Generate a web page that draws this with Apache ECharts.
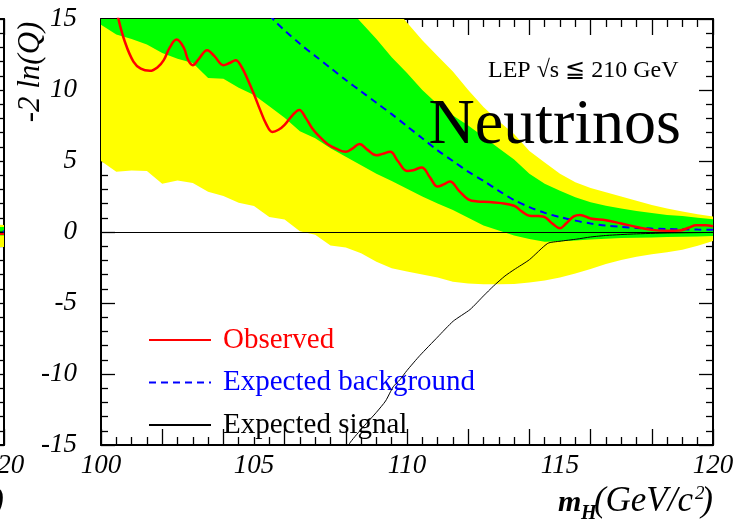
<!DOCTYPE html>
<html>
<head>
<meta charset="utf-8">
<script src="https://cdn.jsdelivr.net/npm/echarts@6/dist/echarts.min.js"></script>
<style>
  html, body { margin: 0; padding: 0; background: #ffffff; }
  #chart { width: 753px; height: 524px; }
</style>
</head>
<body>
<div id="chart"></div>
<script>
// -2 ln(Q) versus the Higgs mass hypothesis, invisible ("neutrinos") channel.

const xTickLabels = [100, 105, 110, 115, 120];
const yTickLabels = [-15, -10, -5, 0, 5, 10, 15];

// observed -2 ln(Q)  [m_H, value]
const observed = [
  [100.40, 16.8], [100.57, 15.0], [100.78, 13.4], [101.06, 12.0], [101.30, 11.5],
  [101.60, 11.35], [101.85, 11.6], [102.05, 12.1], [102.25, 13.0], [102.47, 13.55],
  [102.70, 13.0], [102.85, 12.1], [103.00, 11.75], [103.20, 12.2], [103.47, 12.8],
  [103.70, 12.4], [104.00, 11.75], [104.20, 11.9], [104.40, 12.1], [104.60, 11.6],
  [104.80, 10.7], [105.00, 9.7], [105.20, 8.6], [105.40, 7.6], [105.60, 7.05],
  [105.80, 7.2], [106.00, 7.55], [106.25, 8.2], [106.48, 8.6], [106.70, 8.0],
  [106.90, 7.3], [107.10, 6.8], [107.40, 6.2], [107.70, 5.85], [108.00, 5.65],
  [108.20, 5.85], [108.45, 6.2], [108.70, 5.8], [109.00, 5.4], [109.20, 5.5],
  [109.45, 5.65], [109.70, 5.0], [110.00, 4.3], [110.20, 4.35], [110.48, 4.55],
  [110.75, 3.85], [111.00, 3.2], [111.20, 3.35], [111.40, 3.55], [111.70, 2.9],
  [112.00, 2.3], [112.30, 2.15], [112.70, 2.12], [113.00, 2.05], [113.50, 1.85],
  [113.75, 1.45], [114.00, 1.15], [114.30, 1.12], [114.50, 1.05], [114.75, 0.6],
  [115.00, 0.27], [115.20, 0.6], [115.45, 1.1], [115.65, 1.2], [116.00, 0.95],
  [116.50, 0.82], [117.00, 0.6], [117.50, 0.35], [118.00, 0.15], [118.50, 0.08],
  [118.90, 0.1], [119.20, 0.3], [119.45, 0.48], [119.75, 0.47], [120.00, 0.4]
];

// median expected for background only
const expectedBackground = [
  [105.50, 15.3], [105.69, 14.83], [106.0, 14.2], [106.5, 13.25], [107.0, 12.4],
  [107.5, 11.55], [108.0, 10.7], [108.5, 9.9], [109.0, 9.1], [109.5, 8.3],
  [110.0, 7.45], [110.5, 6.6], [111.0, 5.75], [111.5, 5.0], [112.0, 4.25],
  [112.5, 3.6], [113.0, 2.9], [113.5, 2.25], [114.0, 1.75], [114.5, 1.35],
  [115.0, 1.05], [115.5, 0.8], [116.0, 0.6], [116.5, 0.45], [117.0, 0.36],
  [117.5, 0.29], [118.0, 0.24], [118.5, 0.21], [119.0, 0.19], [119.5, 0.17],
  [120.0, 0.16]
];

// median expected for signal + background
const expectedSignal = [
  [108.05, -15.5], [108.12, -14.9], [108.5, -13.9], [109.0, -12.7], [109.3, -11.9],
  [109.55, -10.9], [109.77, -10.4], [110.0, -9.75], [110.42, -8.7], [111.0, -7.4],
  [111.51, -6.28], [112.06, -5.46], [112.5, -4.5], [112.82, -3.82], [113.2, -3.1],
  [113.5, -2.65], [114.0, -1.95], [114.6, -0.8], [115.0, -0.65], [115.55, -0.5],
  [116.0, -0.35], [116.53, -0.24], [117.4, -0.14], [118.5, -0.07], [120.0, -0.03]
];

// 1 sigma band around the background expectation
const greenUpper = [
  [100.0, 26.0], [104.0, 21.0], [107.0, 17.0], [108.4, 15.0], [109.0, 13.6],
  [109.5, 12.3], [110.0, 11.2], [110.5, 10.0], [111.0, 9.0], [111.5, 8.2],
  [112.0, 7.5], [112.5, 6.7], [113.0, 5.9], [113.5, 5.1], [114.0, 4.1],
  [114.5, 3.4], [115.0, 2.9], [115.5, 2.45], [116.0, 2.1], [116.5, 1.85],
  [117.0, 1.65], [117.5, 1.48], [118.0, 1.33], [118.5, 1.2], [119.0, 1.12],
  [119.5, 1.0], [120.0, 0.9]
];
const greenLower = [
  [100.0, 14.6], [100.5, 13.9], [101.0, 13.6], [101.5, 13.2], [102.0, 12.6],
  [102.5, 12.2], [103.0, 11.9], [103.5, 10.85], [104.0, 10.8], [104.5, 10.15],
  [105.0, 9.65], [105.5, 8.85], [106.0, 8.05], [106.5, 7.1], [107.0, 6.6],
  [107.5, 5.9], [108.0, 5.3], [108.5, 4.7], [109.0, 4.1], [109.5, 3.6],
  [110.0, 3.05], [110.5, 2.5], [111.0, 2.0], [111.5, 1.55], [112.0, 1.0],
  [112.5, 0.45], [113.0, 0.1], [113.5, -0.25], [114.0, -0.5], [114.5, -0.68],
  [115.0, -0.65], [115.5, -0.6], [116.0, -0.53], [116.5, -0.47], [117.0, -0.43],
  [117.5, -0.4], [118.0, -0.38], [118.5, -0.36], [119.0, -0.34], [119.5, -0.31],
  [120.0, -0.28]
];

// 2 sigma band around the background expectation
const yellowUpper = [
  [100.0, 30.0], [105.0, 24.0], [108.5, 18.0], [109.9, 15.0], [110.5, 13.5],
  [111.0, 12.4], [111.5, 11.3], [112.0, 10.0], [112.5, 8.8], [113.0, 7.8],
  [113.5, 6.9], [114.0, 5.7], [114.5, 4.9], [115.0, 4.1], [115.5, 3.5],
  [116.0, 3.1], [116.5, 2.8], [117.0, 2.5], [117.5, 2.2], [118.0, 1.9],
  [118.5, 1.65], [119.0, 1.45], [119.5, 1.25], [120.0, 1.1]
];
const yellowLower = [
  [100.0, 5.0], [100.5, 4.25], [101.0, 4.33], [101.5, 4.3], [102.0, 3.4],
  [102.5, 3.63], [103.0, 3.45], [103.5, 2.83], [104.0, 2.53], [104.5, 2.06],
  [105.0, 1.83], [105.5, 1.05], [106.0, 0.88], [106.5, 0.05], [107.0, -0.2],
  [107.5, -0.95], [108.0, -1.1], [108.5, -1.5], [109.0, -2.1], [109.5, -2.55],
  [110.0, -2.78], [110.5, -3.0], [111.0, -3.2], [111.5, -3.5], [112.0, -3.62],
  [112.5, -3.68], [113.0, -3.68], [113.5, -3.66], [114.0, -3.56], [114.5, -3.42],
  [115.0, -3.2], [115.5, -2.92], [116.0, -2.6], [116.5, -2.25], [117.0, -1.98],
  [117.5, -1.75], [118.0, -1.56], [118.5, -1.42], [119.0, -1.25], [119.5, -0.97],
  [120.0, -0.63]
];

// neighbouring panel (only its right-hand edge falls on the page)
const sideYellowUpper = [[118.0, 0.6], [120.0, 0.5]];
const sideGreenUpper = [[118.0, 0.42], [120.0, 0.38]];
const sideGreenLower = [[118.0, -0.3], [120.0, -0.25]];
const sideYellowLower = [[118.0, -1.1], [120.0, -1.05]];
const sideObserved = [[118.0, -0.1], [120.0, -0.12]];
const sideBackground = [[118.0, 0.05], [120.0, 0.04]];
const sideSignal = [[118.0, 0.0], [120.0, 0.0]];

const SERIF = '"Liberation Serif", "Times New Roman", Times, serif';
const BLACK = '#000000';

function bandSeries(upper, lower, color, xi, yi, z) {
  return {
    type: 'custom',
    xAxisIndex: xi,
    yAxisIndex: yi,
    clip: true,
    silent: true,
    z: z,
    data: [[110, 0]],
    renderItem: function (params, api) {
      const pts = upper.map(function (p) { return api.coord(p); })
        .concat(lower.slice().reverse().map(function (p) { return api.coord(p); }));
      return { type: 'polygon', shape: { points: pts }, style: { fill: color, stroke: null } };
    }
  };
}

function xAxes(grid) {
  const tickAxis = function (pos) {
    return {
      gridIndex: grid, type: 'value', position: pos, min: 100, max: 120, interval: 2,
      axisLine: { show: true, onZero: false, lineStyle: { color: BLACK, width: 2 } },
      axisTick: { show: true, inside: true, length: 16, lineStyle: { color: BLACK, width: 1.3 } },
      minorTick: { show: true, splitNumber: 4, length: 8, lineStyle: { color: BLACK, width: 1.3 } },
      axisLabel: { show: false },
      splitLine: { show: false }, minorSplitLine: { show: false }
    };
  };
  return [
    tickAxis('bottom'),
    {
      gridIndex: grid, type: 'value', position: 'bottom', min: 100, max: 120, interval: 5,
      axisLine: { show: false, onZero: false }, axisTick: { show: false },
      axisLabel: {
        show: true, margin: 7, color: BLACK, fontFamily: SERIF, fontStyle: 'italic', fontSize: 27,
        showMinLabel: true, showMaxLabel: true, hideOverlap: false,
        formatter: function (v) { return xTickLabels.indexOf(v) >= 0 ? String(v) : ''; }
      },
      splitLine: { show: false }
    },
    tickAxis('top')
  ];
}

function yAxes(grid) {
  const axis = function (pos, labels) {
    return {
      gridIndex: grid, type: 'value', position: pos, min: -15, max: 15, interval: 5,
      axisLine: { show: true, onZero: false, lineStyle: { color: BLACK, width: 2 } },
      axisTick: { show: true, inside: true, length: 14, lineStyle: { color: BLACK, width: 1.3 } },
      minorTick: { show: true, splitNumber: 5, length: 7, lineStyle: { color: BLACK, width: 1.3 } },
      axisLabel: {
        show: labels, margin: 24, color: BLACK, fontFamily: SERIF, fontStyle: 'italic', fontSize: 27,
        showMinLabel: true, showMaxLabel: true, hideOverlap: false,
        formatter: function (v) { return yTickLabels.indexOf(v) >= 0 ? String(v) : ''; }
      },
      splitLine: { show: false }, minorSplitLine: { show: false }
    };
  };
  return [axis('left', true), axis('right', false)];
}

function zeroLine() {
  return {
    silent: true, symbol: ['none', 'none'], animation: false,
    label: { show: false },
    lineStyle: { color: BLACK, width: 1, type: 'solid' },
    data: [{ yAxis: 0 }]
  };
}

function massTitle(rightX) {
  return {
    type: 'group',
    children: [
      { type: 'text', x: rightX - 155, y: 503, style: { text: 'm', font: 'italic bold 30px ' + SERIF, fill: BLACK, verticalAlign: 'middle' } },
      { type: 'text', x: rightX - 132, y: 514, style: { text: 'H', font: 'italic bold 20px ' + SERIF, fill: BLACK, verticalAlign: 'middle' } },
      { type: 'text', x: rightX - 20, y: 502, style: { text: '(GeV/c', font: 'italic 35px ' + SERIF, fill: BLACK, align: 'right', verticalAlign: 'middle' } },
      { type: 'text', x: rightX - 18, y: 494, style: { text: '2', font: 'italic 19px ' + SERIF, fill: BLACK, verticalAlign: 'middle' } },
      { type: 'text', x: rightX, y: 502, style: { text: ')', font: 'italic 35px ' + SERIF, fill: BLACK, align: 'right', verticalAlign: 'middle' } }
    ]
  };
}

const chart = echarts.init(document.getElementById('chart'), null, { renderer: 'canvas' });

const option = {
  animation: false,
  backgroundColor: '#ffffff',
  grid: [
    { left: 101, top: 19, width: 612, height: 426, containLabel: false, outerBoundsMode: 'none' },
    { left: -608, top: 19, width: 612, height: 426, containLabel: false, outerBoundsMode: 'none' }
  ],
  xAxis: xAxes(0).concat(xAxes(1)),
  yAxis: yAxes(0).concat(yAxes(1)),
  legend: {
    show: true,
    orient: 'vertical',
    left: 143,
    top: 320,
    itemWidth: 62,
    itemHeight: 1,
    itemGap: 12.5,
    selectedMode: false,
    itemStyle: { color: 'rgba(0,0,0,0)', borderColor: 'rgba(0,0,0,0)', borderWidth: 0 },
    textStyle: { fontFamily: SERIF, fontSize: 29, lineHeight: 30, padding: [0, 0, 0, 7] },
    data: [
      { name: 'Observed', textStyle: { color: '#ff0000' } },
      { name: 'Expected background', textStyle: { color: '#0000ff' } },
      { name: 'Expected signal', textStyle: { color: BLACK } }
    ]
  },
  series: [
    bandSeries(yellowUpper, yellowLower, '#ffff00', 0, 0, 1),
    bandSeries(greenUpper, greenLower, '#00ff00', 0, 0, 2),
    {
      name: 'Expected signal', type: 'line', xAxisIndex: 0, yAxisIndex: 0, z: 4,
      data: expectedSignal, symbol: 'none', showSymbol: false, smooth: 0.2,
      lineStyle: { color: BLACK, width: 1 }, itemStyle: { color: BLACK },
      markLine: zeroLine()
    },
    {
      name: 'Expected background', type: 'line', xAxisIndex: 0, yAxisIndex: 0, z: 5,
      data: expectedBackground, symbol: 'none', showSymbol: false, smooth: 0.3,
      lineStyle: { color: '#0000ff', width: 2, type: [7, 5] }, itemStyle: { color: '#0000ff' }
    },
    {
      name: 'Observed', type: 'line', xAxisIndex: 0, yAxisIndex: 0, z: 6,
      data: observed, symbol: 'none', showSymbol: false, smooth: 0.4,
      lineStyle: { color: '#ff0000', width: 2.5 }, itemStyle: { color: '#ff0000' }
    },

    bandSeries(sideYellowUpper, sideYellowLower, '#ffff00', 3, 2, 1),
    bandSeries(sideGreenUpper, sideGreenLower, '#00ff00', 3, 2, 2),
    {
      name: 'side signal', type: 'line', xAxisIndex: 3, yAxisIndex: 2, z: 4,
      data: sideSignal, symbol: 'none', lineStyle: { color: BLACK, width: 1 },
      markLine: zeroLine()
    },
    {
      name: 'side background', type: 'line', xAxisIndex: 3, yAxisIndex: 2, z: 5,
      data: sideBackground, symbol: 'none', lineStyle: { color: '#0000ff', width: 2, type: [7, 5] }
    },
    {
      name: 'side observed', type: 'line', xAxisIndex: 3, yAxisIndex: 2, z: 6,
      data: sideObserved, symbol: 'none', lineStyle: { color: '#ff0000', width: 2.5 }
    }
  ],
  graphic: [
    {
      type: 'text', x: 31, y: 72, rotation: Math.PI / 2,
      style: { text: '-2 ln(Q)', font: 'italic 31px ' + SERIF, fill: BLACK, align: 'center', verticalAlign: 'middle' }
    },
    {
      type: 'text', x: 488, y: 71, z: 100,
      style: { text: 'LEP \u221As \u2266 210 GeV', font: '24px ' + SERIF, fill: BLACK, align: 'left', verticalAlign: 'middle' }
    },
    {
      type: 'text', x: 681, y: 126, z: 100,
      style: { text: 'Neutrinos', font: '64px ' + SERIF, fill: BLACK, align: 'right', verticalAlign: 'middle' }
    },
    massTitle(713),
    massTitle(4)
  ]
};

chart.setOption(option);
</script>
</body>
</html>
